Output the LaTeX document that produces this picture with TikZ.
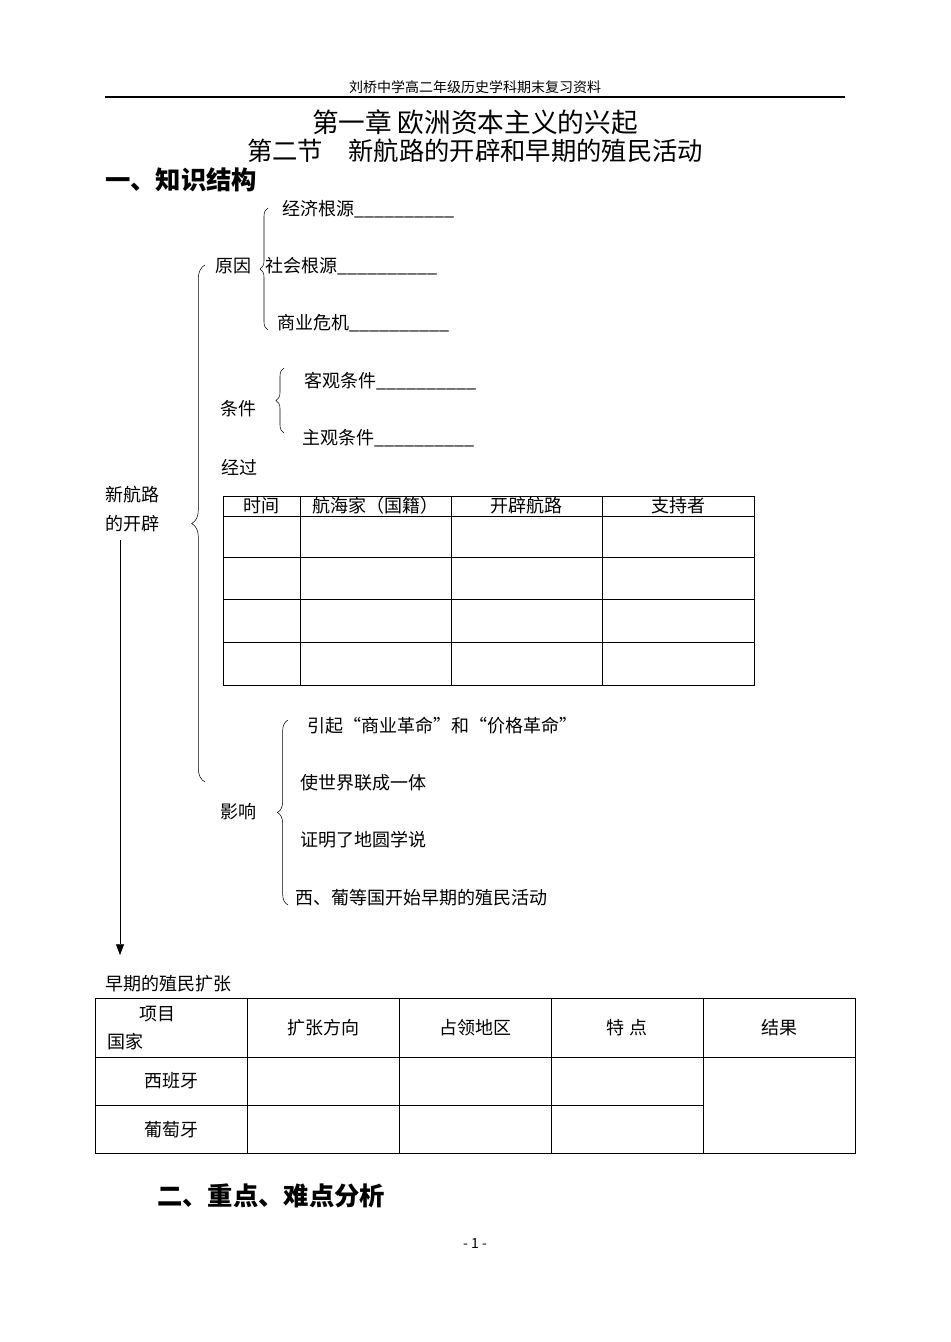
\documentclass[tikz,border=0pt]{standalone}
\usepackage{fontspec}
\setmainfont{Noto Sans CJK SC}
\usetikzlibrary{decorations.pathreplacing,arrows.meta}
\tikzset{
  txt/.style={anchor=west,inner sep=0pt,font=\fontsize{13.5}{15}\selectfont},
  ctxt/.style={inner sep=0pt,font=\fontsize{13.5}{15}\selectfont},
  brc/.style={decorate,decoration={brace,amplitude=#1,mirror},thin},
  grid line/.style={line width=0.6pt}
}
\begin{document}
\begin{tikzpicture}[x=0.75pt,y=-0.75pt]
  \useasboundingbox (0,0) rectangle (950,1342);
  % header
  \node[ctxt,font=\fontsize{10.5}{12}\selectfont] (head) at (475,87) {刘桥中学高二年级历史学科期末复习资料};
  \draw[line width=1.2pt] (105,97) -- (845,97);
  \node[ctxt,font=\fontsize{20}{22}\selectfont] (chap) at (475,122) {第一章\ 欧洲资本主义的兴起};
  \node[ctxt,font=\fontsize{19}{21}\selectfont] (sect) at (475,151) {第二节\quad 新航路的开辟和早期的殖民活动};
  \node[txt,font=\bfseries\fontsize{19}{21}\selectfont] (part1) at (105,180) {一、知识结构};

  % reasons
  \node[txt] (yuanyin) at (215,266) {原因};
  \draw[brc=6pt] (268,208) -- (268,330);
  \node[txt] (jingji) at (282,209) {经济根源\_\_\_\_\_\_\_\_\_\_};
  \node[txt] (shehui) at (265,266) {社会根源\_\_\_\_\_\_\_\_\_\_};
  \node[txt] (shangye) at (277,323) {商业危机\_\_\_\_\_\_\_\_\_\_};

  % big brace and root
  \draw[brc=10pt] (205,265) -- (205,782);
  \node[txt] (root1) at (105,495) {新航路};
  \node[txt] (root2) at (105,524) {的开辟};
  \coordinate (arrtop) at (120,540);
  \coordinate (arrend) at (120,955);
  \draw[-{Triangle[length=8pt,width=6pt]}] (arrtop) -- (arrend);

  % conditions
  \node[txt] (tiaojian) at (220,409) {条件};
  \draw[brc=6pt] (284,368) -- (284,433);
  \node[txt] (keguan) at (304,381) {客观条件\_\_\_\_\_\_\_\_\_\_};
  \node[txt] (zhuguan) at (302,438) {主观条件\_\_\_\_\_\_\_\_\_\_};
  \node[txt] (jingguo) at (221,467) {经过};

  % voyage table
  \draw[grid line] (223,496) rectangle (754,685);
  \foreach \y in {516,557,599,642} \draw[grid line] (223,\y) -- (754,\y);
  \foreach \x in {300,451,602} \draw[grid line] (\x,496) -- (\x,685);
  \node[ctxt] (th1) at (261.5,506) {时间};
  \node[ctxt] (th2) at (375.5,506) {航海家（国籍）};
  \node[ctxt] (th3) at (526.5,506) {开辟航路};
  \node[ctxt] (th4) at (678,506) {支持者};

  % influence
  \node[txt] (yingxiang) at (220,812) {影响};
  \draw[brc=8pt] (288,720) -- (288,905);
  \node[txt] (inf1) at (307,726) {引起“商业革命”和“价格革命”};
  \node[txt] (inf2) at (300,783) {使世界联成一体};
  \node[txt] (inf3) at (300,840) {证明了地圆学说};
  \node[txt] (inf4) at (295,898) {西、葡等国开始早期的殖民活动};

  % colonial table
  \node[txt] (colon) at (105,984) {早期的殖民扩张};
  \draw[grid line] (95,998) rectangle (855,1153);
  \foreach \x in {247,399,551,703} \draw[grid line] (\x,998) -- (\x,1153);
  \draw[grid line] (95,1057) -- (855,1057);
  \draw[grid line] (95,1105) -- (703,1105);
  \node[txt] (xiangmu) at (139,1014) {项目};
  \node[txt] (guojia) at (107,1042) {国家};
  \node[ctxt] (ch1) at (323,1028) {扩张方向};
  \node[ctxt] (ch2) at (475,1028) {占领地区};
  \node[ctxt] (ch3) at (627,1028) {特\ 点};
  \node[ctxt] (ch4) at (779,1028) {结果};
  \node[ctxt] (spain) at (171,1081) {西班牙};
  \node[ctxt] (portugal) at (171,1130) {葡萄牙};

  \node[txt,font=\bfseries\fontsize{19}{21}\selectfont] (part2) at (157,1196) {二、重点、难点分析};
  \node[ctxt,font=\fontsize{10.5}{12}\selectfont] (page) at (475,1243) {- 1 -};
\end{tikzpicture}
\end{document}
